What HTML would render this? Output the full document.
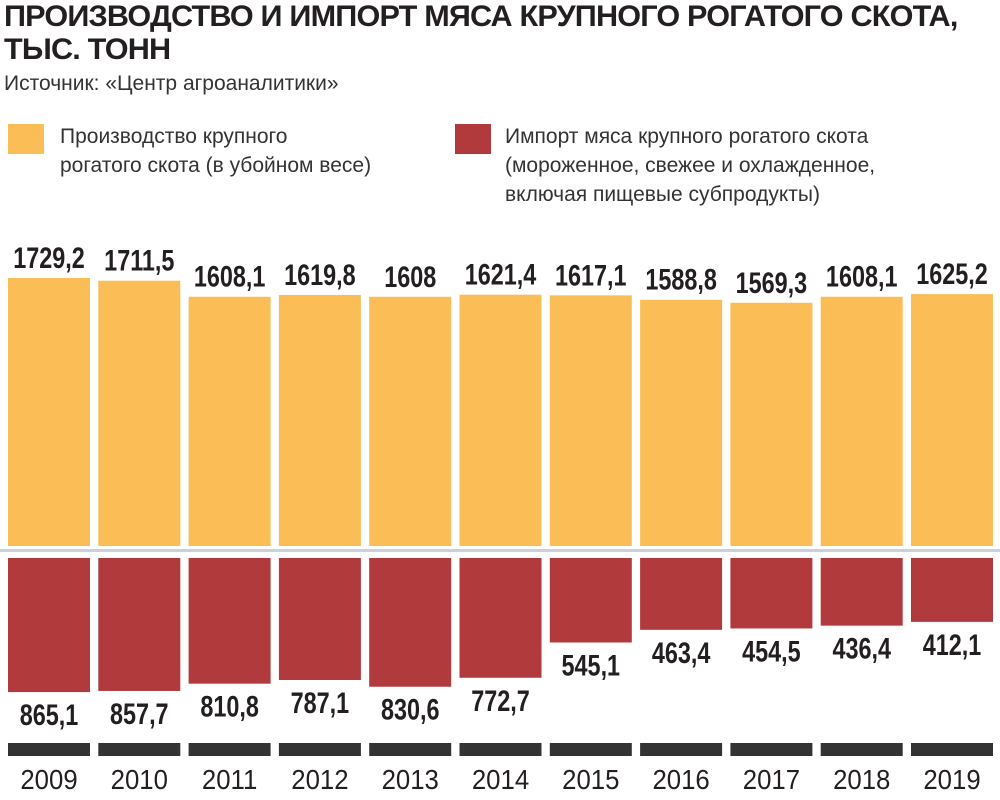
<!DOCTYPE html>
<html><head><meta charset="utf-8">
<style>
body{margin:0;width:1000px;height:800px;background:#fff;overflow:hidden;font-family:"Liberation Sans",sans-serif;color:#222}
.t{position:absolute;left:4px;font-weight:bold;font-family:"Liberation Sans",sans-serif;font-size:30px;color:#231f20;letter-spacing:-0.8px;transform-origin:0 0;transform:scaleX(1.02)}
.sw{position:absolute;width:36px;height:30px}
.lg{position:absolute;font-size:21px;line-height:29px;color:#333}
</style></head><body>
<div class="t" style="top:0px">ПРОИЗВОДСТВО И ИМПОРТ МЯСА КРУПНОГО РОГАТОГО СКОТА,</div>
<div class="t" style="top:33px">ТЫС. ТОНН</div>
<div style="position:absolute;left:4px;top:72px;font-size:21px;color:#333">Источник: «Центр агроаналитики»</div>
<div class="sw" style="left:8px;top:124px;background:#fbbe57"></div>
<div class="lg" style="left:60px;top:122px">Производство крупного<br>рогатого скота (в убойном весе)</div>
<div class="sw" style="left:455px;top:124px;background:#b03a3c"></div>
<div class="lg" style="left:505px;top:122px">Импорт мяса крупного рогатого скота<br>(мороженное, свежее и охлажденное,<br>включая пищевые субпродукты)</div>
<svg id="c" width="1000" height="800" style="position:absolute;left:0;top:0"></svg>
<script>
const years=["2009","2010","2011","2012","2013","2014","2015","2016","2017","2018","2019"];
const production=[1729.2,1711.5,1608.1,1619.8,1608,1621.4,1617.1,1588.8,1569.3,1608.1,1625.2];
const imports=[865.1,857.7,810.8,787.1,830.6,772.7,545.1,463.4,454.5,436.4,412.1];
const ns="http://www.w3.org/2000/svg";
const svg=document.getElementById('c');
const scale=0.155, base=546, ibase=558, x0=8, pitch=90.3, bw=82;
const xs=i=>x0+i*pitch;
function fmt(v){return String(v).replace('.',',');}
function mk(t,a){const e=document.createElementNS(ns,t);for(const k in a)e.setAttribute(k,a[k]);svg.appendChild(e);return e;}
const line=mk('rect',{x:0,y:549,width:1000,height:3,fill:'#c9d2dc'});


years.forEach((y,i)=>{
  const x=xs(i);
  const h=production[i]*scale;
  const b=mk('rect',{x:x,y:base-h,width:bw,height:h,fill:'#fbbe57'});
  
  
  const t=mk('text',{x:0,y:0,transform:'translate('+(x+bw/2)+','+(base-h-10)+') scale(0.78,1)','text-anchor':'middle','font-family':'Liberation Sans, sans-serif','font-weight':'bold','font-size':'30',fill:'#231f20'});
  t.textContent=fmt(production[i]);
  
  
  const ih=imports[i]*scale;
  const r=mk('rect',{x:x,y:ibase,width:bw,height:ih,fill:'#b03a3c'});
  
  
  const it=mk('text',{x:0,y:0,transform:'translate('+(x+bw/2)+','+(ibase+ih+33)+') scale(0.78,1)','text-anchor':'middle','font-family':'Liberation Sans, sans-serif','font-weight':'bold','font-size':'30',fill:'#231f20'});
  it.textContent=fmt(imports[i]);
  
  
  const s=mk('rect',{x:x,y:743,width:bw,height:13,fill:'#333'});
  
  
  const yt=mk('text',{x:0,y:0,transform:'translate('+(x+bw/2)+',789) scale(0.92,1)','text-anchor':'middle','font-family':'Liberation Sans, sans-serif','font-size':'28',fill:'#231f20'});
  yt.textContent=y;
  
  
});
</script>
</body></html>
